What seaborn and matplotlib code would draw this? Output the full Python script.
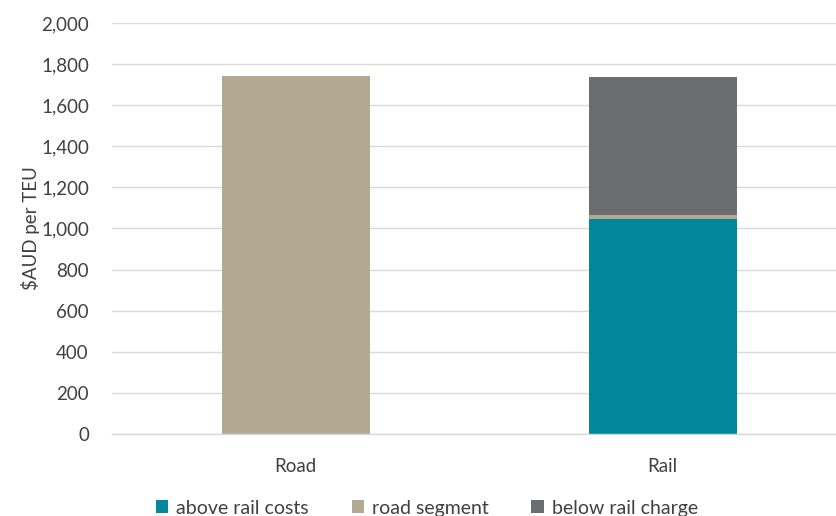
import matplotlib
matplotlib.use("Agg")
import matplotlib.pyplot as plt
import seaborn as sns
import pandas as pd
import numpy as np
from matplotlib.patches import Patch

categories = ["Road", "Rail"]
above_rail_costs = [0, 1046]
road_segment = [1742, 18]
below_rail_charge = [0, 673]

series_names = ["above rail costs", "road segment", "below rail charge"]
colors = ["#03879A", "#B3A892", "#6C6D70"]

sns.set_theme(style="white")
plt.rcParams["font.family"] = ["Lato", "DejaVu Sans"]

fs = 13.5
fig = plt.figure(figsize=(8.37, 5.16), dpi=100)
ax = fig.add_axes([112.5 / 837, 1 - 434 / 516, (846 - 112.5) / 837, (434 - 23) / 516])

# cumulative tops, drawn from the top segment downward so each layer covers the previous
stack = np.array([above_rail_costs, road_segment, below_rail_charge], dtype=float)
cum = np.cumsum(stack, axis=0)
for i in reversed(range(len(series_names))):
    df = pd.DataFrame({"category": categories, "value": cum[i]})
    sns.barplot(data=df, x="category", y="value", color=colors[i], width=0.404,
                saturation=1, ax=ax, edgecolor="none", linewidth=0)

ax.set_ylim(0, 2000)
ax.set_xlim(-0.5, 1.5)
ax.set_yticks(np.arange(0, 2001, 200))
ax.set_yticklabels([f"{v:,}" for v in range(0, 2001, 200)])
ax.yaxis.grid(True, color="#D9D9D9", linewidth=1)
ax.set_axisbelow(True)
for s in ["top", "right", "left"]:
    ax.spines[s].set_visible(False)
ax.spines["bottom"].set_color("#D9D9D9")
ax.spines["bottom"].set_linewidth(1)
ax.tick_params(axis="both", length=0, labelsize=fs, colors="#404040")
ax.tick_params(axis="y", pad=17)
ax.tick_params(axis="x", pad=17)
ax.set_xlabel("")
ax.set_ylabel("$AUD per TEU", fontsize=fs, color="#404040", labelpad=1)

handles = [Patch(facecolor=c, edgecolor="none") for c in colors]
fig.legend(handles, series_names, loc="lower center", ncol=3, frameon=False,
           bbox_to_anchor=(0.51, -0.035), fontsize=fs + 0.5, handlelength=0.65,
           handleheight=0.65, columnspacing=2.2, handletextpad=0.4,
           labelcolor="#404040")

fig.savefig("out.png", dpi=100)
